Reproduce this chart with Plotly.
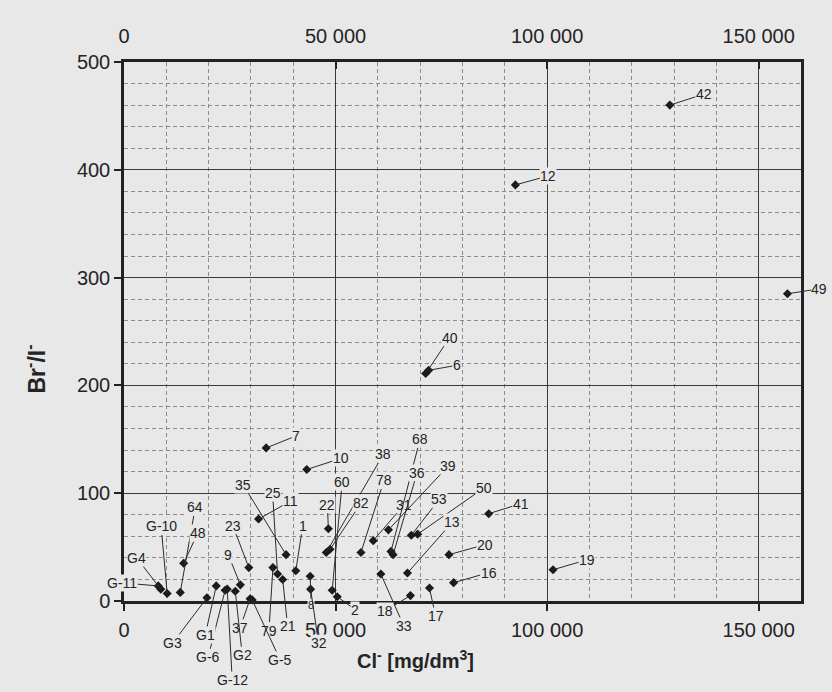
import plotly.graph_objects as go

# Sample points: chloride concentration vs. Br-/I- ratio
labels = ["42", "12", "49", "40", "6", "7", "10", "35", "25", "11",
          "60", "2", "22", "38", "82", "78", "31", "39", "68", "36",
          "53", "50", "13", "41", "20", "16", "19", "33", "18", "17",
          "1", "21", "79", "23", "9", "8", "32", "37", "G-5", "G2",
          "G-12", "G-6", "G1", "G3", "64", "48", "G-10", "G4", "G-11"]
cl = [129000, 92500, 156800, 71300, 72000, 33600, 43200, 38300, 36300, 31800,
      49200, 50400, 48300, 47800, 48700, 56000, 58900, 62500, 63100, 63600,
      67900, 69400, 67000, 86200, 76800, 77900, 101400, 60700, 67700, 72200,
      40600, 37500, 35200, 29500, 27500, 44000, 44100, 29800, 30300, 26300,
      24400, 23900, 21800, 19600, 13300, 14100, 10200, 8700, 8100]
br = [460, 386, 285, 211, 214, 142, 122, 43, 25, 76,
      10, 4, 67, 45, 48, 45, 56, 66, 46, 43,
      61, 62, 26, 81, 43, 17, 29, 25, 5, 12,
      28, 20, 31, 31, 15, 23, 11, 2, 1, 9,
      11, 10, 14, 3, 8, 35, 7, 11, 14]

# Label placement (pixel offset of each label from its point)
label_offset = {
    "42": (34, -11), "12": (33, -9), "49": (32, -5), "40": (24, -36),
    "6": (28, -5), "7": (30, -12), "10": (34, -11), "35": (-43, -70),
    "25": (-5, -81), "11": (32, -18), "60": (10, -108), "2": (18, 13),
    "22": (-1, -24), "38": (57, -98), "82": (31, -46), "78": (23, -72),
    "31": (31, -36), "39": (60, -64), "68": (29, -112), "36": (24, -82),
    "53": (28, -36), "50": (66, -46), "13": (45, -51), "41": (32, -10),
    "20": (36, -10), "16": (35, -10), "19": (34, -10), "33": (23, 52),
    "18": (-25, 15), "17": (6, 28), "1": (7, -45), "21": (5, 47),
    "79": (-4, 63), "23": (-16, -42), "9": (-12, -30), "8": (1, 29),
    "32": (8, 54), "37": (-10, 29), "G-5": (28, 60), "G2": (7, 64),
    "G-12": (5, 91), "G-6": (-17, 67), "G1": (-11, 49), "G3": (-34, 45),
    "64": (15, -85), "48": (14, -30), "G-10": (-6, -67), "G4": (-24, -31),
    "G-11": (-36, -3),
}

x_ticks = [0, 50000, 100000, 150000]
x_ticktext = ["0", "50 000", "100 000", "150 000"]
y_ticks = [0, 100, 200, 300, 400, 500]

BG = "#e8e8e8"
INK = "#242424"
FONT = "Liberation Sans, Arial, sans-serif"
LABEL_FONT = "Liberation Sans, Arial, sans-serif"

fig = go.Figure()
fig.add_trace(go.Scatter(
    x=cl, y=br, mode="markers",
    marker=dict(symbol="diamond", size=7, color="#1a1a1a"),
    cliponaxis=False, showlegend=False, hoverinfo="skip",
))
# invisible trace that carries the top axis
fig.add_trace(go.Scatter(x=[0], y=[0], xaxis="x2", mode="markers",
                         marker=dict(opacity=0), showlegend=False,
                         hoverinfo="skip"))

for lab, xv, yv in zip(labels, cl, br):
    dx, dy = label_offset[lab]
    fig.add_annotation(
        x=xv, y=yv, xref="x", yref="y", text=lab,
        showarrow=True, arrowhead=0, arrowwidth=1, arrowcolor="#2a2a2a",
        ax=dx, ay=dy, standoff=0, startstandoff=0,
        font=dict(family=LABEL_FONT, size=11 if lab == "8" else 14, color=INK),
        bgcolor=BG, borderpad=0,
    )

axis_common = dict(
    showline=True, linewidth=2.5, linecolor="#222", mirror=True,
    showgrid=True, gridcolor="#3a3a3a", gridwidth=1.2, zeroline=False,
    ticks="outside", ticklen=7, tickwidth=1.5, tickcolor="#222",
    tickfont=dict(family=FONT, size=20, color=INK),
)
minor_grid = dict(showgrid=True, gridcolor="#8c8c8c", griddash="4px,3px",
                  gridwidth=1, ticks="")

fig.update_layout(
    width=832, height=692, autosize=False,
    margin=dict(l=124, r=31, t=62, b=91),
    paper_bgcolor=BG, plot_bgcolor=BG,
    xaxis=dict(range=[0, 160000], tickvals=x_ticks, ticktext=x_ticktext,
               minor=dict(dtick=10000, **minor_grid),
               ticklabelstandoff=2, **axis_common),
    xaxis2=dict(range=[0, 160000], overlaying="x", side="top", anchor="y",
                tickvals=x_ticks, ticktext=x_ticktext, showgrid=False,
                showline=False, zeroline=False, ticks="inside", ticklen=7,
                tickwidth=1.5, tickcolor="#222", ticklabelstandoff=14,
                tickfont=dict(family=FONT, size=20, color=INK)),
    yaxis=dict(range=[0, 500], tickvals=y_ticks,
               minor=dict(dtick=20, **minor_grid),
               **axis_common),
)

fig.add_annotation(
    text="Br<sup>-</sup>/I<sup>-</sup>", xref="paper", yref="paper",
    x=-0.131, y=0.43, xanchor="center", yanchor="middle",
    showarrow=False, textangle=-90,
    font=dict(family=FONT, size=23, color=INK, weight="bold"),
)
fig.add_annotation(
    text="Cl<sup>-</sup> [mg/dm<sup>3</sup>]", xref="paper", yref="paper",
    x=0.43, y=-0.108, xanchor="center", yanchor="middle", showarrow=False,
    font=dict(family=FONT, size=20, color=INK, weight="bold"),
)

fig.write_html("out.html")
